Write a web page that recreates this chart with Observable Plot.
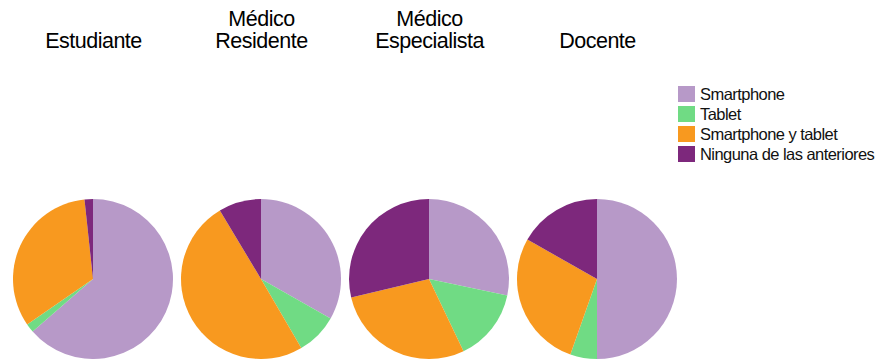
<!DOCTYPE html>
<html><head><meta charset="utf-8">
<script src="https://cdn.jsdelivr.net/npm/d3@7"></script>
<script src="https://cdn.jsdelivr.net/npm/@observablehq/plot@0.6"></script>
<style>
body{margin:0;background:#fff}
#wrap{position:relative;width:877px;height:359px;overflow:hidden;font-family:"Liberation Sans",Arial,sans-serif}
#wrap svg text{letter-spacing:-0.5px}
.legend{position:absolute;left:678px;top:84px}
.row{display:flex;align-items:center;height:20px}
.sw{width:17px;height:16px;margin-right:5px;flex:none}
.lab{font-size:16.5px;letter-spacing:-0.55px;color:#111;white-space:nowrap;line-height:16px}
</style></head>
<body><div id="wrap"></div>
<script>
const roles = ["Estudiante", "Médico Residente", "Médico Especialista", "Docente"];
const roleLabels = ["Estudiante", "Médico\nResidente", "Médico\nEspecialista", "Docente"];
const series = ["Smartphone", "Tablet", "Smartphone y tablet", "Ninguna de las anteriores"];
const colors = ["#b799c8", "#70db84", "#f8991f", "#7d287c"];
const estudiante = [63.6, 1.8, 32.9, 1.7];
const residente = [33.2, 8.4, 49.8, 8.6];
const especialista = [28.3, 14.6, 28.4, 28.7];
const docente = [50.0, 5.4, 27.8, 16.8];
const valuesByRole = [estudiante, residente, especialista, docente];

const data = roles.flatMap((r, i) => series.map((s, j) => ({role: r, series: s, value: valuesByRole[i][j]})));
const titles = roles.map((r, i) => ({role: r, label: roleLabels[i]}));

const R = 80;
function pies(index, scales, values, dimensions) {
  const g = d3.create("svg:g");
  const bw = typeof scales.x.bandwidth === "function" ? scales.x.bandwidth() : scales.x.bandwidth;
  const cy = dimensions.height - dimensions.marginBottom - R;
  const pie = d3.pie().sort(null).value(d => d.value);
  const arc = d3.arc().innerRadius(0).outerRadius(R);
  for (const role of roles) {
    const rows = data.filter(d => d.role === role);
    const cx = scales.x(role) + bw / 2;
    g.append("g").attr("transform", `translate(${cx},${cy})`)
      .selectAll("path").data(pie(rows)).join("path")
      .attr("d", arc).attr("fill", d => scales.color(d.data.series));
  }
  return g.node();
}

const chart = Plot.plot({
  width: 877, height: 359,
  marginTop: 0, marginBottom: 0, marginLeft: 0, marginRight: 0,
  x: {type: "band", domain: roles, range: [9, 681], padding: 0, axis: null},
  color: {type: "ordinal", domain: series, range: colors},
  style: {fontFamily: '"Liberation Sans", Arial, sans-serif', background: "#fff"},
  marks: [
    Plot.dot(data, {x: "role", fill: "series", r: 1, fillOpacity: 0}),
    pies,
    Plot.text(titles, {x: "role", text: "label", frameAnchor: "top", lineAnchor: "bottom", dy: 47, fontSize: 21.5, lineHeight: 1.01, fill: "#000"})
  ]
});
const wrap = document.getElementById("wrap");
wrap.appendChild(chart);
const legend = document.createElement("div");
legend.className = "legend";
series.forEach((s, i) => {
  const row = document.createElement("div");
  row.className = "row";
  row.innerHTML = `<div class="sw" style="background:${colors[i]}"></div><div class="lab">${s}</div>`;
  legend.appendChild(row);
});
wrap.appendChild(legend);
</script>
</body></html>
